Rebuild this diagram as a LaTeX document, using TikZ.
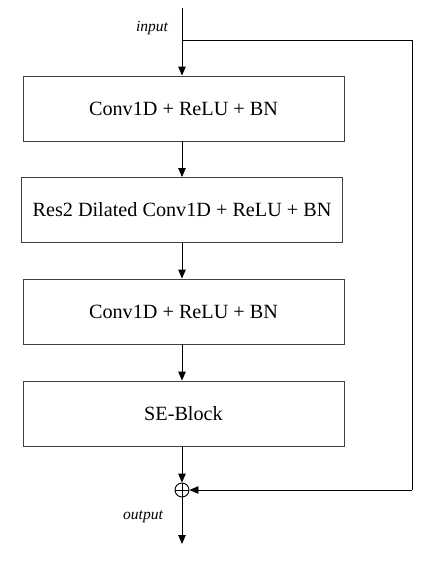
\documentclass[tikz,border=0pt]{standalone}
\usepackage{fontspec}
\setmainfont{Liberation Serif}
\usetikzlibrary{arrows.meta}
\begin{document}
\begin{tikzpicture}[x=1pt,y=-1pt,
  blk/.style={draw=black!75,line width=0.9pt,minimum width=321pt,minimum height=65pt,inner sep=0pt,font=\fontsize{20.2}{23}\selectfont},
  arr/.style={line width=0.9pt,-{Triangle[length=9pt,width=7.5pt]}},
  ln/.style={line width=0.9pt},
  lab/.style={font=\fontsize{15.5}{18}\selectfont\itshape}]
\useasboundingbox (0,0) rectangle (426,582);
\coordinate (in) at (182,8);
\coordinate (br) at (182,40);
\coordinate (c1) at (412,40);
\coordinate (c2) at (412,490);
\coordinate (out) at (182,544);
\node[blk] (b1) at (183.5,108.5) {Conv1D + ReLU + BN};
\node[blk] (b2) at (182,210) {Res2 Dilated Conv1D + ReLU + BN};
\node[blk] (b3) at (183.5,311.5) {Conv1D + ReLU + BN};
\node[blk] (b4) at (183.5,413.5) {SE-Block};
\node[circle,draw,line width=0.9pt,minimum size=14pt,inner sep=0pt] (sum) at (182,490) {};
\draw[line width=0.9pt] (sum.north) -- (sum.south) (sum.west) -- (sum.east);
\node[lab] (li) at (152,28) {input};
\node[lab] (lo) at (143,517) {output};
\draw[arr] (in) -- (b1.north -| in);
\draw[arr] (b1.south -| in) -- (b2.north -| in);
\draw[arr] (b2.south -| in) -- (b3.north -| in);
\draw[arr] (b3.south -| in) -- (b4.north -| in);
\draw[arr] (b4.south -| sum) -- (sum.north);
\draw[ln] (br) -- (c1) -- (c2);
\draw[arr] (c2) -- (sum.east);
\draw[arr] (sum.south) -- (out);
\end{tikzpicture}
\end{document}
